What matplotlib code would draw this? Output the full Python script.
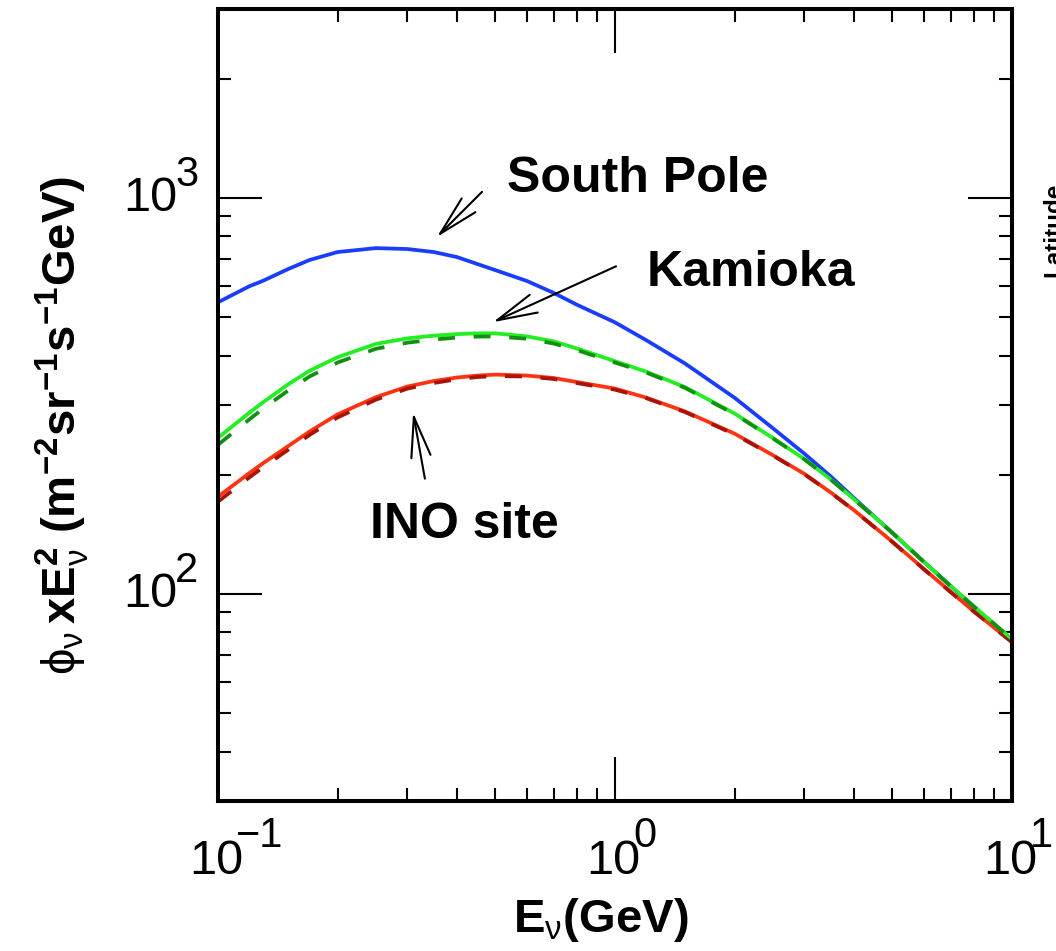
import matplotlib
matplotlib.use('Agg')
import matplotlib.pyplot as plt
from matplotlib.ticker import LogLocator, NullFormatter

plt.rcParams['font.family'] = ['Liberation Sans', 'DejaVu Sans']
plt.rcParams['mathtext.fontset'] = 'custom'
plt.rcParams['mathtext.rm'] = 'Liberation Sans'
plt.rcParams['mathtext.bf'] = 'Liberation Sans:bold'
plt.rcParams['mathtext.it'] = 'Liberation Sans:italic'
plt.rcParams['mathtext.sf'] = 'Liberation Sans'
plt.rcParams['mathtext.fallback'] = 'stix'

# neutrino energy (GeV) and flux x E^2 (m^-2 sr^-1 s^-1 GeV)
energy = [0.1, 0.12, 0.13, 0.15, 0.17, 0.2, 0.25, 0.3, 0.35, 0.4,
          0.45, 0.5, 0.6, 0.7, 0.8, 1.0, 1.2, 1.5, 2.0, 2.5,
          3.0, 3.5, 4.0, 5.0, 6.0, 7.0, 8.0, 10.0]
south_pole = [545, 598.6, 618, 661, 697, 730, 747, 743, 730, 709,
              681, 657, 617, 576, 538, 485, 437, 382, 313, 262,
              226, 197.8, 174.6, 142.5, 120.5, 104.8, 92.7, 76.0]
kamioka = [248, 287, 305, 338, 366, 396, 428, 442, 449, 453,
           455, 455, 447, 434.5, 417, 387, 364, 333, 285.6, 247.5,
           219, 194.4, 173.5, 142.7, 120.5, 104.8, 93.2, 76.9]
kamioka_alt = [238, 276, 294, 326, 354, 384, 416, 431, 439, 444,
               446.5, 447, 441, 429, 413, 384, 362, 331.5, 284.5, 247,
               218.7, 194.2, 173.3, 142.6, 120.4, 104.7, 93.1, 76.8]
ino = [176, 202, 214, 236, 257, 284, 314, 334, 345, 352,
       356, 358, 356, 351, 343, 330, 313, 289, 254, 224,
       201, 180.2, 162.7, 135.4, 115.6, 101.3, 90.5, 75.6]
ino_alt = [171, 197, 209, 231, 252, 279, 309.5, 330, 341, 348.5,
           353, 355, 354, 349, 341, 328, 312, 288, 253, 223.5,
           200.5, 180, 162.5, 135.2, 115.4, 101.1, 90.4, 75.5]

x_decades = [0.1, 1.0, 10.0]
x_exponents = ['\u22121', '0', '1']
y_decades = [100, 1000]
y_exponents = ['2', '3']

W, H = 1056, 951
fig = plt.figure(figsize=(W / 100, H / 100), dpi=100)
ax = fig.add_axes([218 / W, 1 - 801 / H, 794 / W, 792 / H])
ax.set_xscale('log')
ax.set_yscale('log')
ax.set_xlim(0.1, 10)
ax.set_ylim(30, 3000)

lw = 2.7
ax.plot(energy, south_pole, color='#1a3cff', lw=lw)
ax.plot(energy, ino, color='#ff3311', lw=lw)
ax.plot(energy, ino_alt, color='#a8140a', lw=lw, dashes=(4.5, 5))
ax.plot(energy, kamioka, color='#22ee22', lw=lw)
ax.plot(energy, kamioka_alt, color='#129012', lw=lw, dashes=(4.5, 5))

for s in ax.spines.values():
    s.set_linewidth(2.9)
ax.xaxis.set_major_locator(LogLocator(base=10))
ax.yaxis.set_major_locator(LogLocator(base=10))
ax.xaxis.set_minor_locator(LogLocator(base=10, subs=range(2, 10)))
ax.yaxis.set_minor_locator(LogLocator(base=10, subs=range(2, 10)))
ax.xaxis.set_minor_formatter(NullFormatter())
ax.yaxis.set_minor_formatter(NullFormatter())
ax.tick_params(which='both', direction='in', top=True, right=True,
               labelbottom=False, labelleft=False, width=1.5, color='black')
ax.tick_params(which='major', length=32)
ax.tick_params(which='minor', length=9.5)

# decade labels drawn as base + raised exponent
px = 0.72
for xv, ex in zip(x_decades, x_exponents):
    ax.annotate('10', xy=(xv, 0), xycoords=('data', 'axes fraction'),
                xytext=(-2 * px, -73 * px), textcoords='offset points',
                ha='center', va='baseline', fontsize=35, annotation_clip=False)
    ax.annotate(ex, xy=(xv, 0), xycoords=('data', 'axes fraction'),
                xytext=(18 * px, -46 * px), textcoords='offset points',
                ha='left', va='baseline', fontsize=30, annotation_clip=False)
for yv, ex in zip(y_decades, y_exponents):
    ax.annotate('10', xy=(0, yv), xycoords=('axes fraction', 'data'),
                xytext=(-41 * px, -13 * px), textcoords='offset points',
                ha='right', va='baseline', fontsize=35, annotation_clip=False)
    ax.annotate(ex, xy=(0, yv), xycoords=('axes fraction', 'data'),
                xytext=(-43 * px, 12 * px), textcoords='offset points',
                ha='left', va='baseline', fontsize=30, annotation_clip=False)

arrow = dict(arrowstyle='->,head_length=2.9,head_width=0.7', lw=1.5,
             color='black', shrinkA=0, shrinkB=0, mutation_scale=10)
ax.annotate('', xy=(0.356, 797), xytext=(0.4624, 1036), arrowprops=arrow)
ax.annotate('', xy=(0.4928, 485.6), xytext=(1.006, 672), arrowprops=arrow)
ax.annotate('', xy=(0.310, 287.2), xytext=(0.332, 195.5), arrowprops=arrow)

ax.text(0.535, 1036, 'South Pole', fontsize=36, fontweight='bold',
        ha='left', va='baseline')
ax.text(1.204, 598.6, 'Kamioka', fontsize=36, fontweight='bold',
        ha='left', va='baseline')
ax.text(0.2415, 138.7, 'INO site', fontsize=36, fontweight='bold',
        ha='left', va='baseline')

fig.text(601 / W, 1 - 920 / H, r'$\mathbf{E}_{\mathrm{\nu}}\mathbf{(GeV)}$',
         fontsize=34, ha='center', va='center')
fig.text(62 / W, 1 - 425 / H,
         r'$\mathrm{\phi}_{\mathrm{\nu}}\,\mathbf{xE}_{\mathrm{\nu}}^{\mathbf{2}}\ '
         r'\mathbf{(m^{-2}sr^{-1}s^{-1}GeV)}$',
         fontsize=34, rotation=90, ha='center', va='center')
fig.text(1042 / W, 1 - 230 / H, 'Latitude', fontsize=17.5,
         fontweight='bold', rotation=90, ha='left', va='center')

fig.savefig('out.png', dpi=100)
